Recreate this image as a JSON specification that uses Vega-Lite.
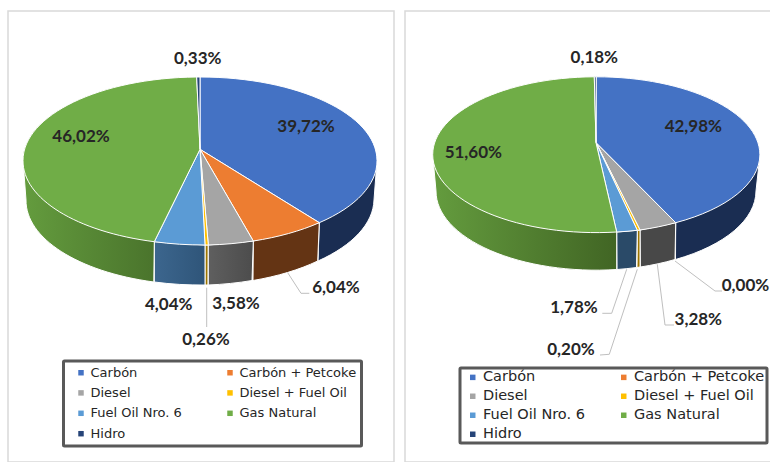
{
  "$schema": "https://vega.github.io/schema/vega-lite/v6.json",
  "background": "white",
  "padding": {"left": 7, "top": 10, "right": 0, "bottom": 0},
  "autosize": {"type": "pad"},
  "spacing": 9,
  "config": {
    "locale": {"number": {"decimal": ",", "thousands": ".", "grouping": [3], "currency": ["", "€"]}},
    "view": {"stroke": "#d9d9d9", "strokeWidth": 1.5},
    "legend": {"strokeWidth": 3, "strokeColor": "#595959", "cornerRadius": 1}
  },
  "datasets": {
    "izquierda": [
      {"fuente": "Carbón", "valor": 0.3972},
      {"fuente": "Carbón + Petcoke", "valor": 0.0604},
      {"fuente": "Diesel", "valor": 0.0358},
      {"fuente": "Diesel + Fuel Oil", "valor": 0.0026},
      {"fuente": "Fuel Oil Nro. 6", "valor": 0.0404},
      {"fuente": "Gas Natural", "valor": 0.4602},
      {"fuente": "Hidro", "valor": 0.0033}
    ],
    "derecha": [
      {"fuente": "Carbón", "valor": 0.4298},
      {"fuente": "Carbón + Petcoke", "valor": 0.0},
      {"fuente": "Diesel", "valor": 0.0328},
      {"fuente": "Diesel + Fuel Oil", "valor": 0.002},
      {"fuente": "Fuel Oil Nro. 6", "valor": 0.0178},
      {"fuente": "Gas Natural", "valor": 0.516},
      {"fuente": "Hidro", "valor": 0.0018}
    ]
  },
  "hconcat": [
    {
      "width": 386,
      "height": 451,
      "data": {"name": "izquierda"},
      "resolve": {"scale": {"fill": "independent", "shape": "independent", "x": "independent", "y": "independent"}},
      "layer": [
        {
          "transform": [{"filter": {"field": "fuente", "oneOf": ["Carbón", "Carbón + Petcoke", "Diesel + Fuel Oil"]}}],
          "mark": {"type": "point", "filled": true, "size": 40000, "opacity": 1, "stroke": "#ffffff", "strokeWidth": 1},
          "encoding": {
            "fill": {
              "field": "fuente", "type": "nominal", "legend": null,
              "scale": {"domain": ["Carbón", "Carbón + Petcoke", "Diesel + Fuel Oil"], "range": ["#1a2d52", "#643414", "#9c7500"]}
            },
            "shape": {
              "field": "fuente", "type": "nominal", "legend": null,
              "scale": {
                "domain": ["Carbón", "Carbón + Petcoke", "Diesel + Fuel Oil"],
                "range": [
                  "M1.183,-0.138 L1.17,0.245 A1.74 0.845 0 0 0 1.73,-0.365 L1.76,-0.76 Z",
                  "M0.523,0.045 L0.52,0.44 A1.74 0.845 0 0 0 1.167,0.245 L1.183,-0.138 Z",
                  "M0.04,0.085 L0.04,0.485 A1.74 0.845 0 0 0 0.07,0.485 L0.073,0.085 Z"
                ]
              }
            }
          }
        },
        {
          "transform": [{"filter": {"field": "fuente", "equal": "Diesel"}}],
          "mark": {
            "type": "point", "filled": true, "size": 40000, "opacity": 1, "stroke": "#ffffff", "strokeWidth": 1,
            "shape": "M0.073,0.085 L0.073,0.485 A1.74 0.845 0 0 0 0.51,0.44 L0.523,0.045 Z",
            "fill": {"gradient": "linear", "x1": 0, "x2": 1, "y1": 0, "y2": 0, "stops": [{"offset": 0, "color": "#5f5f5f"}, {"offset": 1, "color": "#4c4c4c"}]}
          },
          "encoding": {}
        },
        {
          "transform": [{"filter": {"field": "fuente", "equal": "Fuel Oil Nro. 6"}}],
          "mark": {
            "type": "point", "filled": true, "size": 40000, "opacity": 1, "stroke": "#ffffff", "strokeWidth": 1,
            "shape": "M-0.467,0.052 L-0.467,0.455 A1.74 0.845 0 0 0 0.04,0.485 L0.04,0.085 Z",
            "fill": {"gradient": "linear", "x1": 0, "x2": 1, "y1": 0, "y2": 0, "stops": [{"offset": 0, "color": "#3c668e"}, {"offset": 1, "color": "#2f5579"}]}
          },
          "encoding": {}
        },
        {
          "transform": [{"filter": {"field": "fuente", "equal": "Gas Natural"}}],
          "mark": {
            "type": "point", "filled": true, "size": 40000, "opacity": 1, "stroke": "#ffffff", "strokeWidth": 1,
            "shape": "M-1.78,-0.76 L-1.75,-0.365 A1.74 0.845 0 0 0 -0.472,0.455 L-0.467,0.052 Z",
            "fill": {"gradient": "linear", "x1": 0, "x2": 1, "y1": 0, "y2": 0, "stops": [{"offset": 0, "color": "#649c3e"}, {"offset": 1, "color": "#4a742c"}]}
          },
          "encoding": {}
        },
        {
          "mark": {"type": "point", "filled": true, "size": 40000, "opacity": 1, "stroke": "#ffffff", "strokeWidth": 1},
          "encoding": {
            "fill": {
              "field": "fuente", "type": "nominal",
              "scale": {
                "domain": ["Carbón", "Carbón + Petcoke", "Diesel", "Diesel + Fuel Oil", "Fuel Oil Nro. 6", "Gas Natural", "Hidro"],
                "range": ["#4472c4", "#ed7d31", "#a5a5a5", "#ffc000", "#5b9bd5", "#70ad47", "#264478"]
              },
              "legend": {
                "title": null, "orient": "none", "direction": "horizontal", "legendX": 55.5, "legendY": 350, "columns": 2,
                "symbolType": "square", "symbolSize": 30, "symbolStrokeWidth": 0, "symbolOffset": 6,
                "labelFont": "DejaVu Sans", "labelFontSize": 13, "labelColor": "#262626", "labelLimit": 200, "labelOffset": 3,
                "padding": 5, "rowPadding": 6.4, "columnPadding": 35, "gridAlign": "each"
              }
            },
            "shape": {
              "field": "fuente", "type": "nominal", "legend": null,
              "scale": {
                "domain": ["Hidro", "Gas Natural", "Fuel Oil Nro. 6", "Diesel + Fuel Oil", "Diesel", "Carbón + Petcoke", "Carbón"],
                "range": [
                  "M-0.01,-0.872 L-0.043,-1.595 A1.77 0.835 0 0 1 -0.01,-1.595 Z",
                  "M-0.01,-0.872 L-0.467,0.052 A1.77 0.835 0 0 1 -1.78,-0.76 A1.77 0.835 0 0 1 -0.043,-1.595 Z",
                  "M-0.01,-0.872 L0.04,0.085 A1.77 0.835 0 0 1 -0.467,0.052 Z",
                  "M-0.01,-0.872 L0.073,0.085 A1.77 0.835 0 0 1 0.04,0.085 Z",
                  "M-0.01,-0.872 L0.523,0.045 A1.77 0.835 0 0 1 0.073,0.085 Z",
                  "M-0.01,-0.872 L1.183,-0.138 A1.77 0.835 0 0 1 0.523,0.045 Z",
                  "M-0.01,-0.872 L-0.01,-1.595 A1.77 0.835 0 0 1 1.76,-0.76 A1.77 0.835 0 0 1 1.183,-0.138 Z"
                ]
              }
            }
          }
        },
        {
          "transform": [{"filter": {"field": "fuente", "oneOf": ["Carbón + Petcoke", "Diesel + Fuel Oil"]}}],
          "mark": {"type": "point", "filled": false, "size": 40000, "opacity": 1, "stroke": "#bfbfbf", "strokeWidth": 1},
          "encoding": {
            "shape": {
              "field": "fuente", "type": "nominal", "legend": null,
              "scale": {
                "domain": ["Carbón + Petcoke", "Diesel + Fuel Oil"],
                "range": [
                  "M0.867,0.362 L1,0.568 L1.083,0.568",
                  "M0.057,0.512 L0.057,0.905"
                ]
              }
            }
          }
        },
        {
          "mark": {"type": "text", "font": "Lato", "fontWeight": 700, "fontSize": 17, "fill": "#262626", "baseline": "middle", "align": "center"},
          "encoding": {
            "text": {"field": "valor", "type": "quantitative", "format": ".2%"},
            "x": {
              "field": "valor", "type": "quantitative", "axis": null,
              "scale": {
                "nice": false, "zero": false,
                "domain": [0.0026, 0.0033, 0.0358, 0.0404, 0.0604, 0.3972, 0.4602],
                "range": [198, 189.7, 228, 160.7, 328, 298, 73]
              }
            },
            "y": {
              "field": "valor", "type": "quantitative", "axis": null,
              "scale": {
                "nice": false, "zero": false,
                "domain": [0.0026, 0.0033, 0.0358, 0.0404, 0.0604, 0.3972, 0.4602],
                "range": [329.3, 48.3, 292.7, 294, 277.3, 116, 125.7]
              }
            }
          }
        }
      ]
    },
    {
      "width": 375,
      "height": 451,
      "data": {"name": "derecha"},
      "resolve": {"scale": {"fill": "independent", "shape": "independent", "x": "independent", "y": "independent"}},
      "layer": [
        {
          "transform": [{"filter": {"field": "fuente", "oneOf": ["Carbón", "Diesel", "Diesel + Fuel Oil", "Fuel Oil Nro. 6"]}}],
          "mark": {"type": "point", "filled": true, "size": 40000, "opacity": 1, "stroke": "#ffffff", "strokeWidth": 1},
          "encoding": {
            "fill": {
              "field": "fuente", "type": "nominal", "legend": null,
              "scale": {
                "domain": ["Carbón", "Diesel", "Diesel + Fuel Oil", "Fuel Oil Nro. 6"],
                "range": ["#1a2d52", "#484848", "#9c7500", "#2a4a68"]
              }
            },
            "shape": {
              "field": "fuente", "type": "nominal", "legend": null,
              "scale": {
                "domain": ["Carbón", "Diesel", "Diesel + Fuel Oil", "Fuel Oil Nro. 6"],
                "range": [
                  "M0.832,-0.138 L0.83,0.23 A1.6 0.79 0 0 0 1.635,-0.455 L1.675,-0.817 Z",
                  "M0.475,-0.065 L0.478,0.305 A1.6 0.79 0 0 0 0.825,0.23 L0.832,-0.138 Z",
                  "M0.448,-0.062 L0.445,0.31 A1.6 0.79 0 0 0 0.475,0.305 L0.475,-0.065 Z",
                  "M0.242,-0.045 L0.245,0.33 A1.6 0.79 0 0 0 0.44,0.31 L0.448,-0.062 Z"
                ]
              }
            }
          }
        },
        {
          "transform": [{"filter": {"field": "fuente", "equal": "Gas Natural"}}],
          "mark": {
            "type": "point", "filled": true, "size": 40000, "opacity": 1, "stroke": "#ffffff", "strokeWidth": 1,
            "shape": "M-1.598,-0.817 L-1.565,-0.455 A1.6 0.79 0 0 0 0.242,0.33 L0.242,-0.045 Z",
            "fill": {"gradient": "linear", "x1": 0, "x2": 1, "y1": 0, "y2": 0, "stops": [{"offset": 0, "color": "#649c3e"}, {"offset": 1, "color": "#416524"}]}
          },
          "encoding": {}
        },
        {
          "mark": {"type": "point", "filled": true, "size": 40000, "opacity": 1, "stroke": "#ffffff", "strokeWidth": 1},
          "encoding": {
            "fill": {
              "field": "fuente", "type": "nominal",
              "scale": {
                "domain": ["Carbón", "Carbón + Petcoke", "Diesel", "Diesel + Fuel Oil", "Fuel Oil Nro. 6", "Gas Natural", "Hidro"],
                "range": ["#4472c4", "#ed7d31", "#a5a5a5", "#ffc000", "#5b9bd5", "#70ad47", "#264478"]
              },
              "legend": {
                "title": null, "orient": "none", "direction": "horizontal", "legendX": 55, "legendY": 357, "columns": 2,
                "symbolType": "square", "symbolSize": 30, "symbolStrokeWidth": 0, "symbolOffset": 3.5,
                "labelFont": "DejaVu Sans", "labelFontSize": 14.5, "labelColor": "#262626", "labelLimit": 200, "labelOffset": 3,
                "padding": 2, "rowPadding": 4, "columnPadding": 28, "gridAlign": "each"
              }
            },
            "shape": {
              "field": "fuente", "type": "nominal", "legend": null,
              "scale": {
                "domain": ["Hidro", "Gas Natural", "Fuel Oil Nro. 6", "Diesel + Fuel Oil", "Diesel", "Carbón + Petcoke", "Carbón"],
                "range": [
                  "M0.035,-0.938 L0.018,-1.597 A1.636 0.78 0 0 1 0.037,-1.597 Z",
                  "M0.035,-0.938 L0.242,-0.045 A1.636 0.78 0 0 1 -1.598,-0.817 A1.636 0.78 0 0 1 0.018,-1.597 Z",
                  "M0.035,-0.938 L0.448,-0.062 A1.636 0.78 0 0 1 0.242,-0.045 Z",
                  "M0.035,-0.938 L0.475,-0.065 A1.636 0.78 0 0 1 0.448,-0.062 Z",
                  "M0.035,-0.938 L0.832,-0.138 A1.636 0.78 0 0 1 0.475,-0.065 Z",
                  "M0.832,-0.138 L0.832,-0.138",
                  "M0.035,-0.938 L0.037,-1.597 A1.636 0.78 0 0 1 1.674,-0.817 A1.636 0.78 0 0 1 0.832,-0.138 Z"
                ]
              }
            }
          }
        },
        {
          "transform": [{"filter": {"field": "fuente", "oneOf": ["Carbón + Petcoke", "Diesel", "Diesel + Fuel Oil", "Fuel Oil Nro. 6"]}}],
          "mark": {"type": "point", "filled": false, "size": 40000, "opacity": 1, "stroke": "#bfbfbf", "strokeWidth": 1},
          "encoding": {
            "shape": {
              "field": "fuente", "type": "nominal", "legend": null,
              "scale": {
                "domain": ["Carbón + Petcoke", "Diesel", "Diesel + Fuel Oil", "Fuel Oil Nro. 6"],
                "range": [
                  "M0.825,0.245 L1.225,0.545 L1.295,0.545",
                  "M0.648,0.278 L0.725,0.885 L0.815,0.885",
                  "M0.448,0.328 L0.168,1.178 L0.075,1.185",
                  "M0.342,0.328 L0.192,0.768 L0.098,0.768"
                ]
              }
            }
          }
        },
        {
          "mark": {"type": "text", "font": "Lato", "fontWeight": 700, "fontSize": 17, "fill": "#262626", "baseline": "middle", "align": "center"},
          "encoding": {
            "text": {"field": "valor", "type": "quantitative", "format": ".2%"},
            "x": {
              "field": "valor", "type": "quantitative", "axis": null,
              "scale": {
                "nice": false, "zero": false,
                "domain": [0, 0.0018, 0.002, 0.0178, 0.0328, 0.4298, 0.516],
                "range": [340.5, 189.3, 166, 169, 293.3, 288.3, 68.3]
              }
            },
            "y": {
              "field": "valor", "type": "quantitative", "axis": null,
              "scale": {
                "nice": false, "zero": false,
                "domain": [0, 0.0018, 0.002, 0.0178, 0.0328, 0.4298, 0.516],
                "range": [275, 47.3, 339.3, 296.7, 309.3, 115.7, 142.3]
              }
            }
          }
        }
      ]
    }
  ]
}
